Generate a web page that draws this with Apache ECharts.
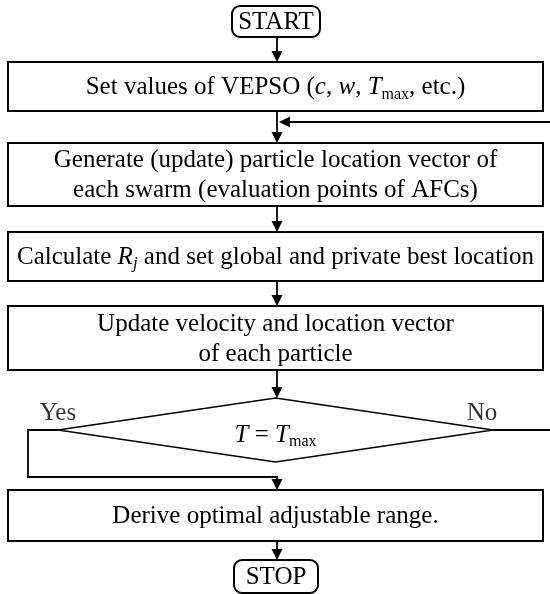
<!DOCTYPE html>
<html>
<head>
<meta charset="utf-8">
<script src="https://cdn.jsdelivr.net/npm/echarts@6/dist/echarts.min.js"></script>
<style>
 html, body { margin: 0; padding: 0; background: #fff; }
 #main { width: 550px; height: 594px; }
</style>
</head>
<body>
<div id="main"></div>
<script>
// flow steps (text), in order
var steps = [
    'START',
    'Set values of VEPSO ({i|c}, {i|w}, {i|T}{sub|max}, etc.)',
    'Generate (update) particle location vector of\neach swarm (evaluation points of AFCs)',
    'Calculate {i|R}{isub|j} and set global and private best location',
    'Update velocity and location vector\nof each particle',
    '{i|T} = {i|T}{sub|max}',
    'Derive optimal adjustable range.',
    'STOP'
];
var kinds = ['terminal', 'process', 'process', 'process', 'process', 'decision', 'process', 'terminal'];
var branchLabels = ['Yes', 'No'];

// layout (page units, 0..550 x 0..594)
var nodeX = [276, 275.5, 275.5, 275.5, 275.5, 275.5, 275.5, 276];
var nodeTop = [6, 62, 143, 232, 306, 398, 490, 560];
var nodeBot = [37, 111, 206, 281, 370, 462, 541, 593];
var nodeW = [88, 535, 535, 535, 535, 435, 535, 84];
var arrowX = 277;
var fs = 25;

window.onload = function () {
    var chart = echarts.init(document.getElementById('main'));

    var rich = {
        i: {fontFamily: 'Liberation Serif', fontSize: fs, fontStyle: 'italic', lineHeight: 30, fill: '#000'},
        sub: {fontFamily: 'Liberation Serif', fontSize: 16, lineHeight: 18, verticalAlign: 'bottom', fill: '#000'},
        isub: {fontFamily: 'Liberation Serif', fontSize: 17, fontStyle: 'italic', lineHeight: 18, verticalAlign: 'bottom', fill: '#000'}
    };

    // links: list of point lists, last segment gets an arrow
    var links = [];
    for (var k = 0; k < steps.length - 1; k++) {
        if (k == 5) continue;
        links.push([[arrowX, nodeBot[k]], [arrowX, nodeTop[k + 1]]]);
    }
    var midY = (nodeTop[5] + nodeBot[5]) / 2;
    var dl = nodeX[5] - nodeW[5] / 2, dr = nodeX[5] + nodeW[5] / 2;
    // yes branch
    links.push([[dl, midY], [28, midY], [28, 477], [arrowX, 477], [arrowX, nodeTop[6]]]);
    // no branch loops back above step 2
    links.push([[dr, midY], [565, midY], [565, 122], [arrowX + 2, 122]]);

    function renderNode(params, api) {
        var i = api.value(0);
        var p1 = api.coord([nodeX[i] - nodeW[i] / 2, nodeTop[i]]);
        var p2 = api.coord([nodeX[i] + nodeW[i] / 2, nodeBot[i]]);
        var w = p2[0] - p1[0], h = p2[1] - p1[1];
        var cx = p1[0] + w / 2, cy = p1[1] + h / 2;
        var shape;
        if (kinds[i] == 'decision') {
            shape = {type: 'polygon', shape: {points: [[cx, p1[1]], [p2[0], cy], [cx, p2[1]], [p1[0], cy]]},
                style: {fill: '#fff', stroke: '#000', lineWidth: 1.5}};
        } else {
            shape = {type: 'rect', shape: {x: p1[0], y: p1[1], width: w, height: h, r: kinds[i] == 'terminal' ? 8 : 0},
                style: {fill: '#fff', stroke: '#000', lineWidth: 2}};
        }
        var ty = cy + (kinds[i] == 'decision' ? 5 : 1);
        var txt = {type: 'text', style: {
            text: steps[i], x: cx, y: ty, align: 'center', verticalAlign: 'middle',
            fontFamily: 'Liberation Serif', fontSize: fs, lineHeight: 30, fill: '#000', rich: rich
        }};
        return {type: 'group', children: [shape, txt]};
    }

    function renderLink(params, api) {
        var pts = links[api.value(0)].map(function (p) { return api.coord(p); });
        var a = pts[pts.length - 2], b = pts[pts.length - 1];
        var dx = b[0] - a[0], dy = b[1] - a[1];
        var len = Math.sqrt(dx * dx + dy * dy);
        var ux = dx / len, uy = dy / len;
        var hl = 11, hw = 5.5;
        var bx = b[0] - ux * hl, by = b[1] - uy * hl;
        var head = [[b[0], b[1]], [bx - uy * hw, by + ux * hw], [bx + uy * hw, by - ux * hw]];
        var line = pts.slice(0, -1).concat([[bx, by]]);
        return {type: 'group', children: [
            {type: 'polyline', shape: {points: line}, style: {stroke: '#000', lineWidth: 1.8, fill: null}},
            {type: 'polygon', shape: {points: head}, style: {fill: '#000'}}
        ]};
    }

    var nodeData = steps.map(function (s, i) { return [i]; });
    var linkData = links.map(function (l, i) { return [i]; });

    chart.setOption({
        backgroundColor: '#fff',
        animation: false,
        grid: {left: 0, right: 0, top: 0, bottom: 0},
        xAxis: {type: 'value', min: 0, max: 550, show: false},
        yAxis: {type: 'value', min: 0, max: 594, inverse: true, show: false},
        series: [{
            type: 'custom', name: 'links', renderItem: renderLink, data: linkData, clip: false, silent: true
        }, {
            type: 'custom', name: 'steps', renderItem: renderNode, data: nodeData, silent: true
        }, {
            type: 'scatter', name: 'branches', symbolSize: 0, silent: true,
            data: [[58, 413], [482, 413]],
            label: {
                show: true, position: 'inside', color: '#000',
                fontFamily: 'Liberation Serif', fontSize: fs,
                formatter: function (p) { return branchLabels[p.dataIndex]; }
            }
        }]
    });
};
</script>
</body>
</html>
